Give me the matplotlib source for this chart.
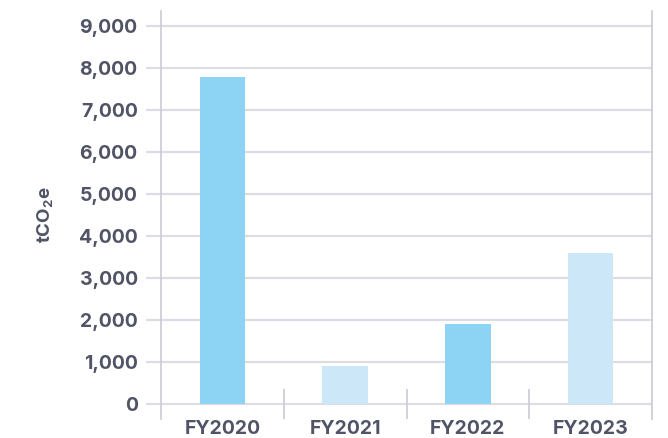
import matplotlib.pyplot as plt
from matplotlib.ticker import FuncFormatter

# Emissions by financial year
years = ['FY2020', 'FY2021', 'FY2022', 'FY2023']
emissions = [7780, 910, 1900, 3590]
bar_colors = ['#8dd3f3', '#cbe7f8', '#8dd3f3', '#cbe7f8']
y_ticks = list(range(0, 10000, 1000))

text_color = '#505466'
grid_color = '#dcdde4'
spine_color = '#c8cad6'

plt.rcParams['font.family'] = ['Inter', 'DejaVu Sans']
plt.rcParams['mathtext.default'] = 'regular'

fig = plt.figure(figsize=(6.68, 4.38), dpi=100)
ax = fig.add_axes([161 / 668, 19 / 438, 491 / 668, 408 / 438])

x = range(len(years))
ax.bar(x, emissions, width=0.37, color=bar_colors, zorder=3)

ax.set_xlim(-0.5, len(years) - 0.5)
ax.set_ylim(-357, 9357)

# horizontal grid, ticks stick out past the left spine
ax.set_yticks(y_ticks)
ax.yaxis.set_major_formatter(FuncFormatter(lambda v, p: f'{int(v):,}'))
ax.grid(axis='y', color=grid_color, linewidth=1.6, zorder=0)
ax.tick_params(axis='y', length=15 * 0.72, width=1.6, color=grid_color,
               pad=6, labelsize=14, labelcolor=text_color)

ax.set_xticks(list(x))
ax.set_xticklabels(years)
ax.tick_params(axis='x', length=0, pad=1, labelsize=14, labelcolor=text_color)
for lbl in ax.get_xticklabels() + ax.get_yticklabels():
    lbl.set_fontweight('bold')

# short separators between categories
ax.vlines([i + 0.5 for i in range(len(years) - 1)], -357, 357,
          color=spine_color, linewidth=1.2, zorder=2)

for side in ['top', 'bottom']:
    ax.spines[side].set_visible(False)
for side in ['left', 'right']:
    ax.spines[side].set_color(spine_color)
    ax.spines[side].set_linewidth(1.2)

ax.set_ylabel(r'tCO$_{2}$e', fontsize=13.5, fontweight='bold', color=text_color,
              va='center')
ax.yaxis.set_label_coords(-0.236, 0.5)

fig.savefig('out.png', dpi=100)
